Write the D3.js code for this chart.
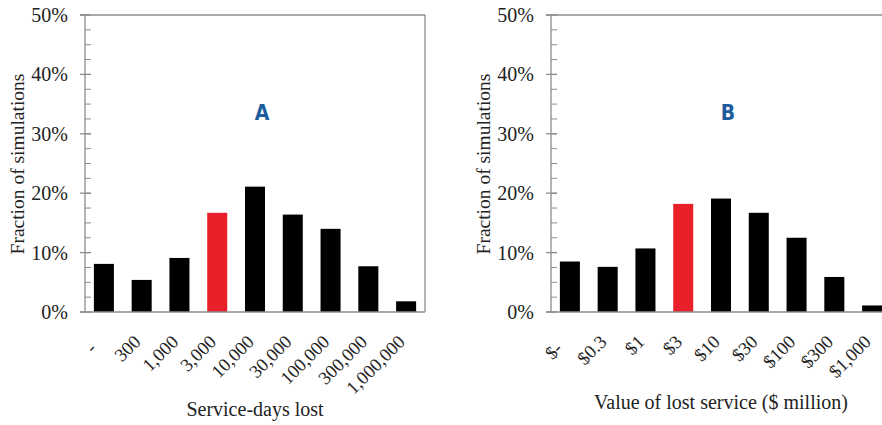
<!DOCTYPE html>
<html>
<head>
<meta charset="utf-8">
<script src="https://cdnjs.cloudflare.com/ajax/libs/d3/7.8.5/d3.min.js"></script>
<style>
  body { margin: 0; background: #fff; }
  svg text { font-family: "Liberation Serif", "DejaVu Serif", serif; fill: #222; }
</style>
</head>
<body>
<div id="chart"></div>
<script>
var width = 882,
    height = 425;

// panel A: service-days lost
var daysLabels = ["-  ", "300", "1,000", "3,000", "10,000", "30,000", "100,000", "300,000", "1,000,000"];
var daysValues = [8.1, 5.4, 9.1, 16.7, 21.1, 16.4, 14.0, 7.7, 1.8];

// panel B: value of lost service
var valueLabels = ["$-  ", "$0.3", "$1", "$3", "$10", "$30", "$100", "$300", "$1,000"];
var valueValues = [8.5, 7.6, 10.7, 18.2, 19.1, 16.7, 12.5, 5.9, 1.1];

var yTicks = [0, 10, 20, 30, 40, 50];
var redIndex = 3;

var svg = d3.select("#chart")
    .append("svg")
    .attr("width", width)
    .attr("height", height);

var plotTop = 15,
    plotBottom = 312,
    plotW = 340;

function drawPanel(left, labels, values, letter, xTitle, titleY) {
    var g = svg.append("g");

    var x = d3.scaleBand()
        .domain(labels)
        .range([left, left + plotW])
        .paddingInner(0.47)
        .paddingOuter(0.235);

    var y = d3.scaleLinear()
        .domain([0, 50])
        .range([plotBottom, plotTop]);

    // bars
    g.selectAll("rect.bar")
        .data(values)
        .enter().append("rect")
        .attr("class", "bar")
        .attr("x", function(d, i) { return x(labels[i]); })
        .attr("y", function(d) { return y(d); })
        .attr("width", x.bandwidth())
        .attr("height", function(d) { return y(0) - y(d); })
        .attr("fill", function(d, i) { return i == redIndex ? "#e8202a" : "#000"; });

    // frame
    var frame = "#8c8c8c";
    g.append("line").attr("x1", left - 5).attr("x2", left + plotW)
        .attr("y1", y(50)).attr("y2", y(50)).attr("stroke", frame).attr("stroke-width", 1.3);
    g.append("line").attr("x1", left - 5).attr("x2", left + plotW)
        .attr("y1", y(0)).attr("y2", y(0)).attr("stroke", frame).attr("stroke-width", 1.3);
    g.append("line").attr("x1", left).attr("x2", left)
        .attr("y1", y(50)).attr("y2", y(0)).attr("stroke", frame).attr("stroke-width", 1.3);
    g.append("line").attr("x1", left + plotW).attr("x2", left + plotW)
        .attr("y1", y(50)).attr("y2", y(0)).attr("stroke", frame).attr("stroke-width", 1.3);

    // minor ticks every 2.5%
    g.selectAll("line.minor")
        .data(d3.range(2.5, 50, 2.5))
        .enter().append("line")
        .attr("class", "minor")
        .attr("x1", left).attr("x2", left + 6)
        .attr("y1", function(d) { return y(d); })
        .attr("y2", function(d) { return y(d); })
        .attr("stroke", frame);

    // major ticks
    g.selectAll("line.major")
        .data(yTicks)
        .enter().append("line")
        .attr("class", "major")
        .attr("x1", left - 5).attr("x2", left + 6)
        .attr("y1", function(d) { return y(d); })
        .attr("y2", function(d) { return y(d); })
        .attr("stroke", frame)
        .attr("stroke-width", 1.3);

    g.selectAll("text.ylab")
        .data(yTicks)
        .enter().append("text")
        .attr("class", "ylab")
        .attr("x", left - 17)
        .attr("y", function(d) { return y(d); })
        .attr("dy", "0.35em")
        .attr("text-anchor", "end")
        .style("font-size", "20px")
        .text(function(d) { return d + "%"; });

    // x labels, rotated
    g.selectAll("text.xlab")
        .data(labels)
        .enter().append("text")
        .attr("class", "xlab")
        .attr("transform", function(d) {
            return "translate(" + (x(d) + x.bandwidth() / 2) + "," + (plotBottom + 31) + ") rotate(-45)";
        })
        .attr("text-anchor", "end")
        .style("font-size", "18.5px")
        .style("white-space", "pre")
        .text(function(d) { return d; });

    // axis titles
    g.append("text")
        .attr("transform", "translate(" + (left - 61) + "," + 164 + ") rotate(-90)")
        .attr("text-anchor", "middle")
        .style("font-size", "19.5px")
        .text("Fraction of simulations");

    g.append("text")
        .attr("x", left + 170)
        .attr("y", titleY)
        .attr("text-anchor", "middle")
        .style("font-size", "20px")
        .text(xTitle);

    g.append("text")
        .attr("x", left + 177)
        .attr("y", 120)
        .attr("text-anchor", "middle")
        .style("font-family", "'Liberation Sans Narrow', 'DejaVu Sans Condensed', 'Roboto', sans-serif")
        .style("font-weight", "bold")
        .style("font-size", "21px")
        .style("fill", "#1d5c9c")
        .text(letter);
}

drawPanel(85, daysLabels, daysValues, "A", "Service-days  lost", 416);
drawPanel(551, valueLabels, valueValues, "B", "Value of lost service ($ million)", 409);
</script>
</body>
</html>
